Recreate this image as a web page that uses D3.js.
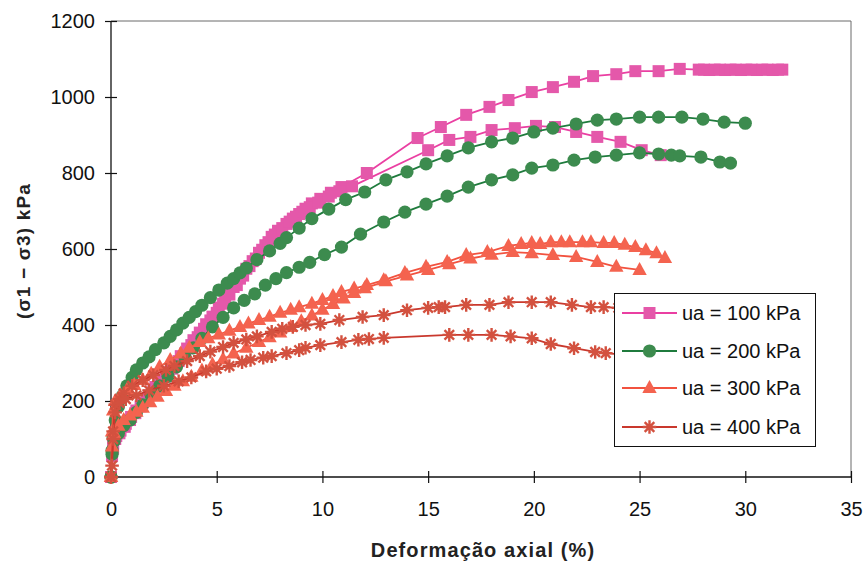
<!DOCTYPE html>
<html>
<head>
<meta charset="utf-8">
<script src="https://cdn.jsdelivr.net/npm/d3@7"></script>
<style>
  html, body { margin: 0; padding: 0; background: #fff; }
  svg { display: block; font-family: "Liberation Sans", Arial, sans-serif; }
</style>
</head>
<body>
<svg id="chart" width="865" height="570"></svg>
<script>
// Deviator stress vs. axial strain, two tests per air pressure ua.
// Points are [axial strain %, (σ1 − σ3) kPa].

const xTicks = [0, 5, 10, 15, 20, 25, 30, 35];
const yTicks = [0, 200, 400, 600, 800, 1000, 1200];
const seriesNames = ["ua = 100 kPa", "ua = 200 kPa", "ua = 300 kPa", "ua = 400 kPa"];

const ua100a = [[0,0],[0.05,55],[0.1,90],[0.25,108],[0.45,122],[0.7,140],[0.95,158],[1.2,175],[1.5,196],[1.8,215],[2.1,237],[2.4,256],[2.7,276],[3.0,296],[3.3,318],[3.6,338],[3.9,360],[4.2,380],[4.5,402],[4.8,422],[5.1,446],[5.4,470],[5.8,500],[6.1,522],[6.4,548],[6.7,568],[7.0,590],[7.3,610],[7.6,632],[7.9,648],[8.3,666],[8.6,680],[8.9,692],[9.2,706],[9.5,720],[9.9,732],[10.4,748],[10.9,763],[12.1,800],[14.5,892],[15.6,921],[16.8,953],[17.9,974],[18.8,992],[19.9,1013],[20.9,1026],[21.9,1040],[22.8,1055],[23.9,1060],[24.8,1068],[25.9,1068],[26.9,1074],[27.8,1072],[28.05,1072],[28.3,1071],[28.55,1072],[28.8,1072],[29.05,1071],[29.3,1072],[29.55,1072],[29.8,1071],[30.05,1072],[30.3,1072],[30.55,1071],[30.8,1072],[31.05,1072],[31.3,1071],[31.55,1072],[31.75,1072]];
const ua100b = [[0,0],[0.1,75],[0.2,100],[0.4,115],[0.65,132],[0.9,150],[1.15,168],[1.4,186],[1.7,205],[2.0,225],[2.3,245],[2.6,265],[2.9,285],[3.2,305],[3.5,325],[3.8,347],[4.1,368],[4.4,390],[4.7,412],[5.0,432],[5.3,456],[5.6,480],[5.95,505],[6.25,530],[6.55,555],[6.85,575],[7.15,598],[7.45,618],[7.75,638],[8.1,655],[8.45,672],[8.75,685],[9.05,698],[9.4,710],[9.8,722],[10.3,738],[10.8,752],[11.4,765],[15.0,860],[16.0,887],[17.0,895],[18.0,913],[19.1,918],[20.1,924],[21.0,921],[22.0,908],[23.0,895],[24.1,882],[25.1,860],[26.0,847]];

const ua200a = [[0,0],[0.05,70],[0.1,105],[0.2,150],[0.35,185],[0.55,215],[0.75,240],[1.0,262],[1.2,282],[1.5,300],[1.8,316],[2.1,335],[2.5,353],[2.8,370],[3.1,387],[3.4,405],[3.7,420],[4.0,435],[4.3,452],[4.7,472],[5.1,492],[5.5,510],[5.8,522],[6.1,537],[6.4,550],[6.9,572],[7.5,595],[8.0,615],[8.3,630],[8.9,655],[9.5,680],[10.3,705],[11.1,730],[12.0,750],[13.0,782],[14.0,803],[14.9,824],[15.9,845],[16.9,866],[18.0,882],[19.0,892],[20.0,908],[20.9,918],[22.0,929],[23.0,939],[23.9,942],[25.0,947],[25.9,947],[27.0,947],[28.0,942],[29.0,934],[30.0,931]];
const ua200b = [[0,0],[0.05,60],[0.15,95],[0.35,115],[0.6,135],[0.9,150],[1.2,170],[1.5,190],[1.9,215],[2.3,240],[2.7,265],[3.1,290],[3.5,315],[3.9,340],[4.3,365],[4.8,395],[5.3,420],[5.8,445],[6.3,465],[6.8,482],[7.3,505],[7.8,522],[8.3,538],[8.9,552],[9.4,565],[10.1,585],[10.9,605],[11.8,639],[12.9,671],[13.9,697],[14.9,718],[15.9,739],[16.9,763],[18.0,782],[19.0,795],[19.9,813],[20.9,821],[21.9,834],[22.9,842],[23.9,847],[25.0,853],[25.9,850],[26.5,847],[26.9,845],[27.9,842],[28.8,829],[29.3,826]];

const ua300a = [[0,0],[0.05,120],[0.1,175],[0.2,200],[0.45,215],[0.75,229],[1.1,242],[1.5,255],[1.9,272],[2.3,290],[2.8,308],[3.3,325],[3.7,340],[4.2,355],[4.6,365],[5.1,375],[5.6,385],[6.1,395],[6.5,404],[7.0,413],[7.5,422],[8.0,432],[8.5,440],[8.9,447],[9.5,456],[10.0,466],[10.5,476],[10.9,487],[11.5,496],[12.1,505],[12.9,518],[13.9,537],[14.9,553],[15.9,566],[16.8,584],[17.8,592],[18.8,608],[19.4,613],[19.9,616],[20.3,613],[20.8,618],[21.3,618],[21.7,618],[22.3,618],[22.7,618],[23.3,616],[23.8,616],[24.3,611],[24.8,605],[25.3,597],[25.8,589],[26.2,576]];
const ua300b = [[0,0],[0.05,80],[0.15,115],[0.35,135],[0.6,150],[0.9,162],[1.2,172],[1.5,182],[1.85,197],[2.2,211],[2.6,226],[3.0,240],[3.4,252],[3.8,264],[4.3,280],[4.8,296],[5.3,310],[5.8,325],[6.4,340],[7.0,355],[7.5,368],[8.0,380],[8.5,395],[9.0,410],[9.5,425],[10.0,440],[10.5,455],[11.0,470],[11.5,484],[12.0,497],[13.0,515],[14.0,530],[15.0,545],[16.0,560],[17.0,575],[18.0,585],[19.0,592],[19.9,589],[20.9,584],[22.0,579],[23.0,566],[23.9,553],[25.0,545]];

const ua400a = [[0,0],[0.05,30],[0.1,120],[0.2,190],[0.4,205],[0.6,220],[1.0,240],[1.5,255],[2.0,268],[2.6,282],[3.0,292],[3.6,305],[4.2,318],[4.7,330],[5.3,342],[5.8,353],[6.4,362],[6.9,370],[7.6,382],[8.1,390],[8.6,395],[9.2,400],[9.9,403],[10.8,413],[11.9,421],[12.9,426],[14.0,439],[15.0,445],[15.5,447],[15.8,447],[16.8,453],[17.9,453],[18.8,460],[19.9,460],[20.8,460],[21.8,453],[22.7,447],[23.3,447],[24.0,445]];
const ua400b = [[0,0],[0.1,100],[0.2,170],[0.4,195],[0.7,205],[1.2,215],[1.8,228],[2.5,240],[3.2,252],[3.8,262],[4.5,278],[5.0,285],[5.6,292],[6.2,302],[6.6,308],[7.2,314],[7.6,318],[8.3,326],[8.9,334],[9.2,340],[9.9,347],[10.9,355],[11.7,361],[12.2,363],[12.9,366],[16.0,374],[16.9,374],[18.0,374],[18.9,370],[19.9,365],[20.8,350],[21.9,339],[22.9,329],[23.4,326],[24.2,322]];

const series = [
  { name: seriesNames[0], tests: [ua100a, ua100b], line: "#ea3fa2", fill: "#e458aa", marker: "square" },
  { name: seriesNames[1], tests: [ua200a, ua200b], line: "#1f7b3d", fill: "#3c8b4e", marker: "circle" },
  { name: seriesNames[2], tests: [ua300a, ua300b], line: "#f2523f", fill: "#f4634f", marker: "triangle" },
  { name: seriesNames[3], tests: [ua400a, ua400b], line: "#c9382d", fill: "#d3513f", marker: "star" }
];

const svg = d3.select("#chart");
const x = d3.scaleLinear().domain([0, 35]).range([111, 851]);
const y = d3.scaleLinear().domain([0, 1200]).range([477, 21]);

// plot frame (top and right edges)
svg.append("path")
  .attr("d", `M${x(0)},${y(1200)}H${x(35)}V${y(0)}`)
  .attr("fill", "none").attr("stroke", "#6b6b6b").attr("stroke-width", 1);

// axes with crossing tick marks
const gx = svg.append("g").attr("transform", `translate(0,${y(0)})`)
  .call(d3.axisBottom(x).tickValues(xTicks).tickFormat(d3.format("d")).tickSize(6).tickPadding(19));
gx.selectAll(".tick line").attr("y1", -6);
const gy = svg.append("g").attr("transform", `translate(${x(0)},0)`)
  .call(d3.axisLeft(y).tickValues(yTicks).tickFormat(d3.format("d")).tickSize(6).tickPadding(10));
gy.selectAll(".tick line").attr("x1", 6);
[gx, gy].forEach(g => {
  g.select(".domain").attr("stroke", "#111").attr("stroke-width", 1.3);
  g.selectAll(".tick line").attr("stroke", "#111").attr("stroke-width", 1.2);
  g.selectAll(".tick text").attr("fill", "#111").style("font-size", "20px").style("font-family", "'Liberation Sans', Arial, sans-serif");
});
gx.select(".domain").attr("d", `M${x(0)},0H${x(35)}`);
gy.select(".domain").attr("d", `M0,${y(0)}V${y(1200)}`);

// axis titles
svg.append("text")
  .attr("x", 483).attr("y", 557)
  .attr("text-anchor", "middle")
  .style("font-size", "20px").style("font-weight", "bold").style("letter-spacing", "1.1px")
  .attr("fill", "#222")
  .text("Deformação axial (%)");
svg.append("text")
  .attr("transform", "translate(30,251) rotate(-90)")
  .attr("text-anchor", "middle")
  .style("font-size", "19px").style("font-weight", "bold").style("letter-spacing", "1.2px")
  .attr("fill", "#222")
  .text("(σ1 − σ3) kPa");

// marker shapes
function drawMarker(sel, type, fill) {
  if (type === "square") {
    sel.append("rect").attr("x", -6).attr("y", -6).attr("width", 12).attr("height", 12).attr("fill", fill);
  } else if (type === "circle") {
    sel.append("circle").attr("r", 6.6).attr("fill", fill);
  } else if (type === "triangle") {
    sel.append("path").attr("d", "M0,-8L7.2,5L-7.2,5Z").attr("fill", fill);
  } else {
    const h = 6.8, d = 4.8;
    sel.append("path")
      .attr("d", `M${-h},0H${h}M0,${-h}V${h}M${-d},${-d}L${d},${d}M${-d},${d}L${d},${-d}`)
      .attr("stroke", fill).attr("stroke-width", 2.4).attr("fill", "none");
  }
}

const line = d3.line().x(d => x(d[0])).y(d => y(d[1]));
const plot = svg.append("g");
series.forEach(s => {
  const g = plot.append("g");
  s.tests.forEach(t => {
    g.append("path").attr("d", line(t))
      .attr("fill", "none").attr("stroke", s.line).attr("stroke-width", 1.8);
  });
  s.tests.forEach(t => {
    g.selectAll(null).data(t).enter().append("g")
      .attr("transform", d => `translate(${x(d[0])},${y(d[1])})`)
      .each(function () { drawMarker(d3.select(this), s.marker, s.fill); });
  });
});

// legend
const lg = svg.append("g");
lg.append("rect").attr("x", 614.5).attr("y", 293.5).attr("width", 201).attr("height", 153)
  .attr("fill", "#fff").attr("stroke", "#111").attr("stroke-width", 1);
const rowY = [313, 351, 388, 427];
series.forEach((s, i) => {
  const r = lg.append("g").attr("transform", `translate(0,${rowY[i]})`);
  r.append("line").attr("x1", 622).attr("x2", 677).attr("y1", 0).attr("y2", 0)
    .attr("stroke", s.line).attr("stroke-width", 1.8);
  drawMarker(r.append("g").attr("transform", "translate(649.5,0)"), s.marker, s.fill);
  r.append("text").attr("x", 682).attr("y", 7).style("font-size", "20px").attr("fill", "#111").text(s.name);
});
</script>
</body>
</html>
